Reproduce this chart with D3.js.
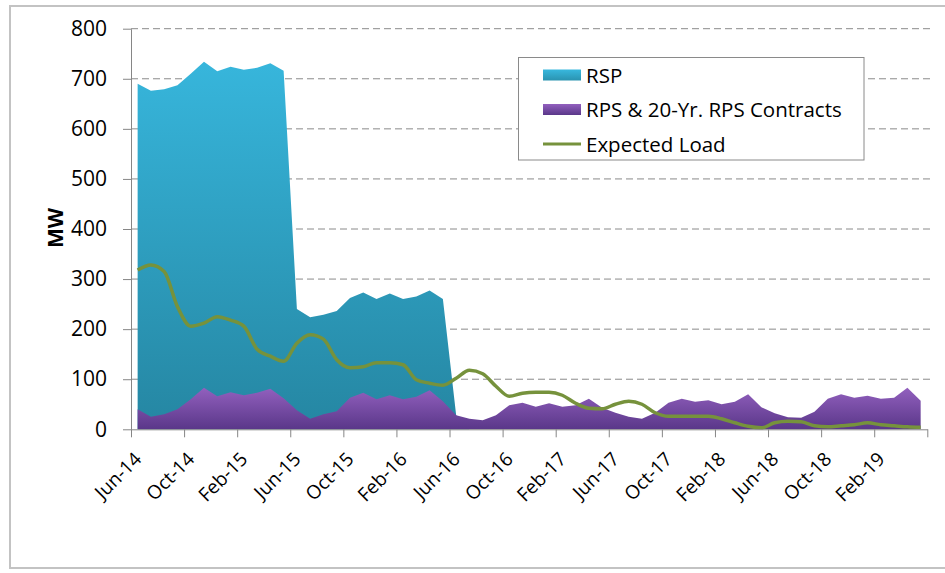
<!DOCTYPE html>
<html>
<head>
<meta charset="utf-8">
<script src="https://cdn.jsdelivr.net/npm/d3@7"></script>
<style>
  body { margin: 0; background: #fff; }
  svg { display: block; font-family: "Open Sans", Lato, sans-serif; }
</style>
</head>
<body>
<svg id="chart" width="945" height="573"></svg>
<script>
// monthly categories, Jun-14 .. May-19
const months = [
  "Jun-14","Jul-14","Aug-14","Sep-14","Oct-14","Nov-14","Dec-14","Jan-15","Feb-15","Mar-15","Apr-15","May-15",
  "Jun-15","Jul-15","Aug-15","Sep-15","Oct-15","Nov-15","Dec-15","Jan-16","Feb-16","Mar-16","Apr-16","May-16",
  "Jun-16","Jul-16","Aug-16","Sep-16","Oct-16","Nov-16","Dec-16","Jan-17","Feb-17","Mar-17","Apr-17","May-17",
  "Jun-17","Jul-17","Aug-17","Sep-17","Oct-17","Nov-17","Dec-17","Jan-18","Feb-18","Mar-18","Apr-18","May-18",
  "Jun-18","Jul-18","Aug-18","Sep-18","Oct-18","Nov-18","Dec-18","Jan-19","Feb-19","Mar-19","Apr-19","May-19"
];

// MW
const rsp = [
  690, 676, 679, 687, 710, 734, 715, 724, 718, 722, 731, 716,
  240, 224, 229, 236, 262, 273, 260, 271, 260, 265, 277, 260,
  28, 0, 0, 0, 0, 0, 0, 0, 0, 0, 0, 0,
  0, 0, 0, 0, 0, 0, 0, 0, 0, 0, 0, 0,
  0, 0, 0, 0, 0, 0, 0, 0, 0, 0, 0, 0
];
const rps = [
  40, 25, 30, 40, 60, 83, 66, 74, 68, 73, 81, 62,
  38, 21, 30, 36, 63, 73, 60, 68, 60, 65, 78, 56,
  28, 21, 18, 28, 48, 53, 45, 52, 45, 48, 61, 43,
  33, 25, 21, 33, 53, 61, 55, 58, 50, 55, 70, 44,
  32, 24, 23, 35, 61, 70, 63, 67, 61, 63, 83, 57
];
const load = [
  318, 328, 315, 245, 206, 212, 225, 218, 206, 160, 146, 136,
  172, 189, 180, 139, 123, 125, 133, 133, 129, 99, 92, 88,
  102, 118, 111, 86, 66, 72, 74, 74, 68, 52, 42, 41,
  50, 56, 50, 33, 26, 26, 26, 26, 21, 13, 6, 3,
  13, 16, 15, 7, 5, 7, 9, 13, 9, 7, 5, 4
];
const yTicks = [0, 100, 200, 300, 400, 500, 600, 700, 800];
const labelEvery = 4;

const svg = d3.select("#chart");

// outer frame
svg.append("rect")
  .attr("x", 10).attr("y", 6)
  .attr("width", 945).attr("height", 562)
  .attr("fill", "none")
  .attr("stroke", "#c3c3c3")
  .attr("stroke-width", 2);

const plotL = 131, plotR = 927.3, plotT = 28.7, plotB = 429.3;

const x = d3.scaleLinear().domain([0, months.length]).range([plotL, plotR]);
const y = d3.scaleLinear().domain([0, 800]).range([plotB, plotT]);

const defs = svg.append("defs");
const tealGrad = defs.append("linearGradient").attr("id", "teal")
  .attr("gradientUnits", "userSpaceOnUse")
  .attr("x1", 0).attr("y1", 60).attr("x2", 0).attr("y2", plotB);
tealGrad.append("stop").attr("offset", 0).attr("stop-color", "#37b6dc");
tealGrad.append("stop").attr("offset", 1).attr("stop-color", "#2586a2");

const purpGrad = defs.append("linearGradient").attr("id", "purple")
  .attr("x1", 0).attr("y1", 0).attr("x2", 0).attr("y2", 1);
purpGrad.append("stop").attr("offset", 0).attr("stop-color", "#9260be");
purpGrad.append("stop").attr("offset", 1).attr("stop-color", "#5a3789");

const tealSw = defs.append("linearGradient").attr("id", "tealSw")
  .attr("x1", 0).attr("y1", 0).attr("x2", 0).attr("y2", 1);
tealSw.append("stop").attr("offset", 0).attr("stop-color", "#38b8de");
tealSw.append("stop").attr("offset", 1).attr("stop-color", "#2a93b0");

// gridlines
svg.append("g")
  .selectAll("line")
  .data(yTicks.filter(d => d > 0))
  .join("line")
  .attr("x1", plotL).attr("x2", plotR + 4)
  .attr("y1", d => y(d)).attr("y2", d => y(d))
  .attr("stroke", "#8a8a8a")
  .attr("stroke-width", 1)
  .attr("stroke-dasharray", "7,4");

const px = (d, i) => x(i + 0.5);

// areas
svg.append("path")
  .datum(rsp)
  .attr("fill", "url(#teal)")
  .attr("d", d3.area().x(px).y0(plotB).y1(d => y(d)));

svg.append("path")
  .datum(rps)
  .attr("fill", "url(#purple)")
  .attr("d", d3.area().x(px).y0(plotB).y1(d => y(d)));

// expected load
svg.append("path")
  .datum(load)
  .attr("fill", "none")
  .attr("stroke", "#76923c")
  .attr("stroke-width", 3.5)
  .attr("stroke-linejoin", "round")
  .attr("d", d3.line().x(px).y(d => y(d)).curve(d3.curveMonotoneX));

// y axis
const yAxis = svg.append("g")
  .attr("transform", `translate(${plotL},0)`)
  .call(d3.axisLeft(y).tickValues(yTicks).tickSize(8).tickSizeOuter(0).tickPadding(16));
yAxis.select(".domain").attr("stroke", "#868686");
yAxis.selectAll(".tick line").attr("stroke", "#868686");
yAxis.selectAll(".tick text")
  .attr("font-family", "'Open Sans', sans-serif")
  .attr("font-size", 21)
  .attr("fill", "#000");

// x axis
const tickIdx = d3.range(0, months.length + 1, labelEvery);
const xAxis = svg.append("g")
  .attr("transform", `translate(0,${plotB})`)
  .call(d3.axisBottom(x).tickValues(tickIdx).tickSize(8).tickSizeOuter(0).tickFormat(""));
xAxis.select(".domain").attr("stroke", "#868686");
xAxis.selectAll(".tick line").attr("stroke", "#868686");

svg.append("g")
  .selectAll("text")
  .data(tickIdx.filter(i => i < months.length))
  .join("text")
  .attr("transform", i => `translate(${x(i + 0.5) + 5},${plotB + 31}) rotate(-45)`)
  .attr("text-anchor", "end")
  .attr("font-size", 19)
  .attr("fill", "#000")
  .text(i => months[i]);

// y title
svg.append("text")
  .attr("transform", "translate(63,228) rotate(-90)")
  .attr("text-anchor", "middle")
  .attr("font-size", 21)
  .attr("font-weight", 700)
  .text("MW");

// legend
const lg = svg.append("g");
lg.append("rect")
  .attr("x", 518.5).attr("y", 57.5)
  .attr("width", 345.5).attr("height", 102.5)
  .attr("fill", "#fff")
  .attr("stroke", "#8a8a8a");

const legendItems = [
  { name: "RSP", type: "area", fill: "url(#tealSw)" },
  { name: "RPS & 20-Yr. RPS Contracts", type: "area", fill: "url(#purple)" },
  { name: "Expected Load", type: "line", stroke: "#76923c" }
];
const rows = lg.selectAll("g.item")
  .data(legendItems)
  .join("g")
  .attr("class", "item")
  .attr("transform", (d, i) => `translate(543,${75 + i * 34.5})`);

rows.filter(d => d.type === "area").append("rect")
  .attr("x", 0).attr("y", -5.5).attr("width", 38).attr("height", 11)
  .attr("fill", d => d.fill);
rows.filter(d => d.type === "line").append("line")
  .attr("x1", 0).attr("x2", 38).attr("y1", 0).attr("y2", 0)
  .attr("stroke", d => d.stroke).attr("stroke-width", 3);
rows.append("text")
  .attr("x", 43).attr("y", 7.5)
  .attr("font-size", 20.5)
  .attr("fill", "#000")
  .text(d => d.name);
</script>
</body>
</html>
